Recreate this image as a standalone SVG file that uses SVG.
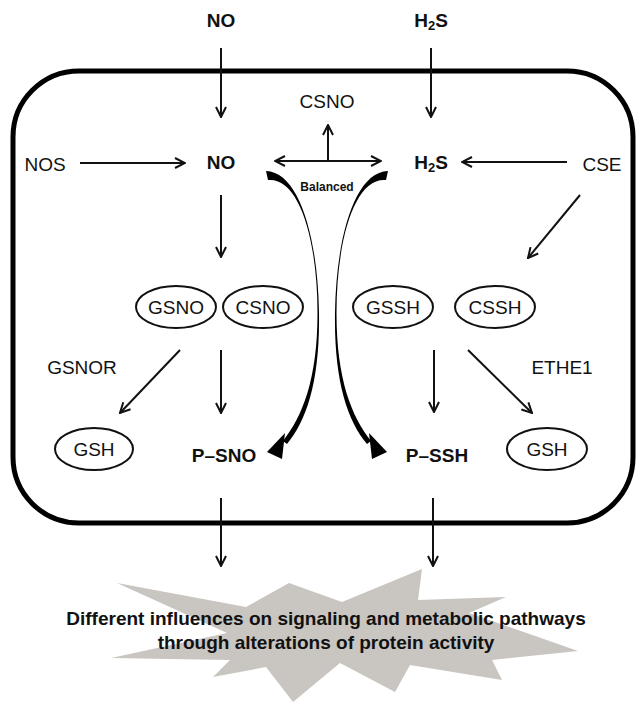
<svg xmlns="http://www.w3.org/2000/svg" width="643" height="709" viewBox="0 0 643 709">
<defs>
<style>
text{font-family:"Liberation Sans",Arial,sans-serif;fill:#111;text-anchor:middle;dominant-baseline:central}
.b{font-weight:bold;font-size:19px}
.r{font-size:19px}
.ln{stroke:#111;stroke-width:2;fill:none}
.el{fill:#fff;stroke:#111;stroke-width:2}
</style>
<marker id="ah" viewBox="0 0 12 12" refX="11" refY="6" markerWidth="12" markerHeight="12" markerUnits="userSpaceOnUse" orient="auto-start-reverse">
<path d="M1,1 L11,6 L1,11" fill="none" stroke="#111" stroke-width="2"/>
</marker>
</defs>
<rect id="cell" x="13" y="71" width="620" height="452" rx="66" ry="66" fill="none" stroke="#000" stroke-width="5"/>
<g id="burst">
<polygon points="117,583 246,607 289,583 342,602 422,569 418,600 506,597 469,613 578,651 492,660 502,680 410,665 395,692 340,663 293,702 266,667 213,677 230,660 111,658 227,633" fill="#c9c5c0"/>
<text class="b" x="326" y="618">Different influences on signaling and metabolic pathways</text>
<text class="b" x="326" y="642">through alterations of protein activity</text>
</g>
<g id="connectors">
<line class="ln" x1="221" y1="48" x2="221" y2="117" marker-end="url(#ah)"/>
<line class="ln" x1="431" y1="48" x2="431" y2="117" marker-end="url(#ah)"/>
<line class="ln" x1="80" y1="163" x2="185" y2="163" marker-end="url(#ah)"/>
<line class="ln" x1="567" y1="162" x2="462" y2="162" marker-end="url(#ah)"/>
<line class="ln" x1="275" y1="161" x2="381" y2="161" marker-start="url(#ah)" marker-end="url(#ah)"/>
<line class="ln" x1="328" y1="161" x2="328" y2="125" marker-end="url(#ah)"/>
<line class="ln" x1="221" y1="195" x2="221" y2="257" marker-end="url(#ah)"/>
<line class="ln" x1="580" y1="195" x2="528" y2="258" marker-end="url(#ah)"/>
<line class="ln" x1="180" y1="350" x2="120" y2="413" marker-end="url(#ah)"/>
<line class="ln" x1="221" y1="350" x2="221" y2="413" marker-end="url(#ah)"/>
<line class="ln" x1="434" y1="350" x2="434" y2="412" marker-end="url(#ah)"/>
<line class="ln" x1="468" y1="350" x2="532" y2="413" marker-end="url(#ah)"/>
<line class="ln" x1="221" y1="498" x2="221" y2="566" marker-end="url(#ah)"/>
<line class="ln" x1="433" y1="498" x2="433" y2="566" marker-end="url(#ah)"/>
<path d="M266,171 C300,172 318,240 319,313 C320,380 307,420 287,444 L283,441 C302,417 317.5,380 317.5,313 C317.5,242 300,177 268,180 Z" fill="#000"/>
<polygon points="267,452 285,433 282,459" fill="#000"/>
<path d="M388,171 C354,172 336,240 335,313 C334,380 347,420 367,444 L371,441 C352,417 336.5,380 336.5,313 C336.5,242 354,177 386,180 Z" fill="#000"/>
<polygon points="387,452 369,433 372,459" fill="#000"/>
</g>
<g id="n-no-top"><text class="b" x="221" y="20">NO</text></g>
<g id="n-h2s-top"><text class="b" x="431" y="20">H<tspan font-size="13" dy="5">2</tspan><tspan dy="-5">S</tspan></text></g>
<g id="n-csno-top"><text class="r" x="327" y="101">CSNO</text></g>
<g id="n-nos"><text class="r" x="45" y="164">NOS</text></g>
<g id="n-no"><text class="b" x="221" y="162">NO</text></g>
<g id="n-h2s"><text class="b" x="431" y="162">H<tspan font-size="13" dy="5">2</tspan><tspan dy="-5">S</tspan></text></g>
<g id="n-cse"><text class="r" x="602" y="164">CSE</text></g>
<g id="n-balanced"><text x="327" y="187" style="font-size:12px;font-weight:bold">Balanced</text></g>
<g id="n-gsno"><ellipse class="el" cx="176" cy="307" rx="40" ry="21"/><text class="r" x="176" y="307">GSNO</text></g>
<g id="n-csno"><ellipse class="el" cx="263" cy="307" rx="40" ry="21"/><text class="r" x="263" y="307">CSNO</text></g>
<g id="n-gssh"><ellipse class="el" cx="393" cy="307" rx="40" ry="21"/><text class="r" x="393" y="307">GSSH</text></g>
<g id="n-cssh"><ellipse class="el" cx="495" cy="307" rx="40" ry="21"/><text class="r" x="495" y="307">CSSH</text></g>
<g id="n-gsnor"><text class="r" x="82" y="367">GSNOR</text></g>
<g id="n-ethe1"><text class="r" x="562" y="367">ETHE1</text></g>
<g id="n-gsh-l"><ellipse class="el" cx="94" cy="449" rx="39" ry="21"/><text class="r" x="94" y="449">GSH</text></g>
<g id="n-psno"><text class="b" x="224" y="455">P–SNO</text></g>
<g id="n-pssh"><text class="b" x="437" y="455">P–SSH</text></g>
<g id="n-gsh-r"><ellipse class="el" cx="547" cy="449" rx="40" ry="21"/><text class="r" x="547" y="449">GSH</text></g>
</svg>
